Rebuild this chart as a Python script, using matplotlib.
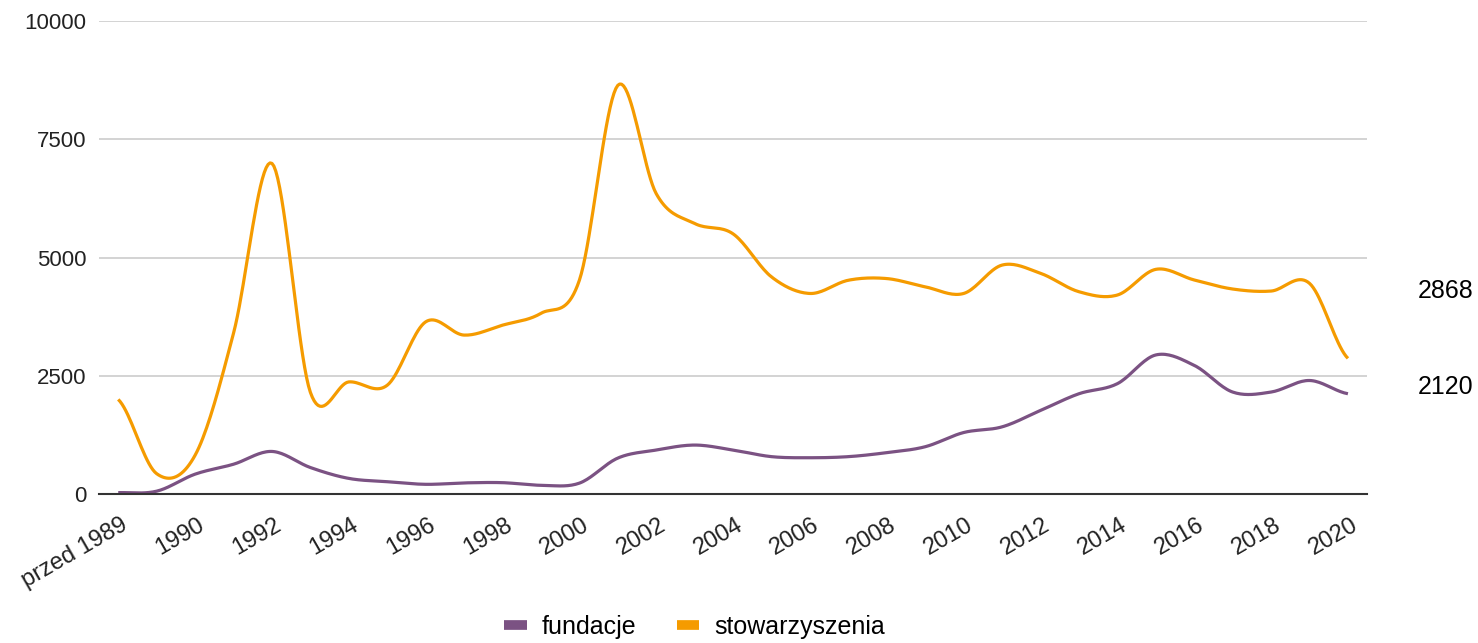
#!/usr/bin/env python3
"""New foundations and associations registered per year (fundacje vs stowarzyszenia)."""
import numpy as np
import matplotlib
matplotlib.use("Agg")
import matplotlib.pyplot as plt
from matplotlib.transforms import ScaledTranslation

plt.rcParams["font.family"] = ["Liberation Sans", "DejaVu Sans"]

years = ["przed 1989"] + [str(y) for y in range(1989, 2021)]

fundacje = [30, 60, 420, 630, 900, 560, 330, 260, 205, 235, 240, 185, 230,
            760, 930, 1035, 930, 790, 767, 790, 875, 1000, 1300, 1420,
            1767, 2120, 2333, 2940, 2720, 2156, 2156, 2400, 2120]

stowarzyszenia = [2000, 430, 820, 3400, 6990, 2150, 2370, 2300, 3640, 3360,
                  3570, 3820, 4520, 8640, 6350, 5720, 5500, 4590, 4240, 4520,
                  4555, 4380, 4240, 4840, 4666, 4277, 4207, 4750, 4525, 4334,
                  4291, 4454, 2868]

end_labels = ["2868", "2120"]

PURPLE = "#7b5283"
ORANGE = "#f59b00"


def smooth(vals, n=20):
    # Catmull-Rom curve through the points, like the "smooth" line option
    y = np.asarray(vals, dtype=float)
    x = np.arange(len(y), dtype=float)
    yp = np.concatenate([[y[0]], y, [y[-1]]])
    xs, ys = [], []
    for i in range(len(y) - 1):
        p0, p1, p2, p3 = yp[i], yp[i + 1], yp[i + 2], yp[i + 3]
        m1 = (p2 - p0) / 2
        m2 = (p3 - p1) / 2
        t = np.linspace(0, 1, n, endpoint=False)
        h00 = 2 * t**3 - 3 * t**2 + 1
        h10 = t**3 - 2 * t**2 + t
        h01 = -2 * t**3 + 3 * t**2
        h11 = t**3 - t**2
        xs.append(x[i] + t)
        ys.append(h00 * p1 + h10 * m1 + h01 * p2 + h11 * m2)
    xs.append([x[-1]])
    ys.append([y[-1]])
    return np.concatenate(xs), np.concatenate(ys)


fig = plt.figure(figsize=(14.78, 6.43), dpi=100)
ax = fig.add_axes([0.067, 0.2317, 0.858, 0.7356])

for vals, color, name in [(fundacje, PURPLE, "fundacje"),
                          (stowarzyszenia, ORANGE, "stowarzyszenia")]:
    sx, sy = smooth(vals)
    ax.plot(sx, sy, color=color, lw=2.3, label=name, solid_capstyle="butt")

ax.set_xlim(-0.5, len(years) - 0.5)
ax.set_ylim(0, 10000)
ax.set_yticks([0, 2500, 5000, 7500, 10000])
ax.set_yticklabels(["0", "2500", "5000", "7500", "10000"])
ax.yaxis.grid(True, color="#cccccc", lw=1.2)
ax.set_axisbelow(True)

idx = list(range(0, len(years), 2))
ax.set_xticks(idx)
ax.set_xticklabels([years[i] for i in idx], rotation=30, ha="right",
                   va="center", rotation_mode="anchor")
ax.tick_params(axis="both", length=0, colors="#222222")
ax.tick_params(axis="y", pad=9, labelsize=16)
ax.tick_params(axis="x", pad=21, labelsize=17)
shift = ScaledTranslation(0.08, 0, fig.dpi_scale_trans)
for lbl in ax.get_xticklabels():
    lbl.set_transform(lbl.get_transform() + shift)

for s in ["top", "right", "left"]:
    ax.spines[s].set_visible(False)
ax.spines["bottom"].set_color("#333333")
ax.spines["bottom"].set_linewidth(1.5)

ax.text(1.040, 0.429, end_labels[0], transform=ax.transAxes, fontsize=18,
        ha="left", va="center")
ax.text(1.040, 0.226, end_labels[1], transform=ax.transAxes, fontsize=18,
        ha="left", va="center")

leg = fig.legend(loc="center", bbox_to_anchor=(0.47, 0.025), ncol=2,
                 frameon=False, fontsize=18, handlelength=0.9,
                 columnspacing=1.6, handletextpad=0.6)
for h in leg.get_lines():
    h.set_linewidth(7)

fig.savefig("out.png", dpi=100, facecolor="white")
plt.close(fig)
